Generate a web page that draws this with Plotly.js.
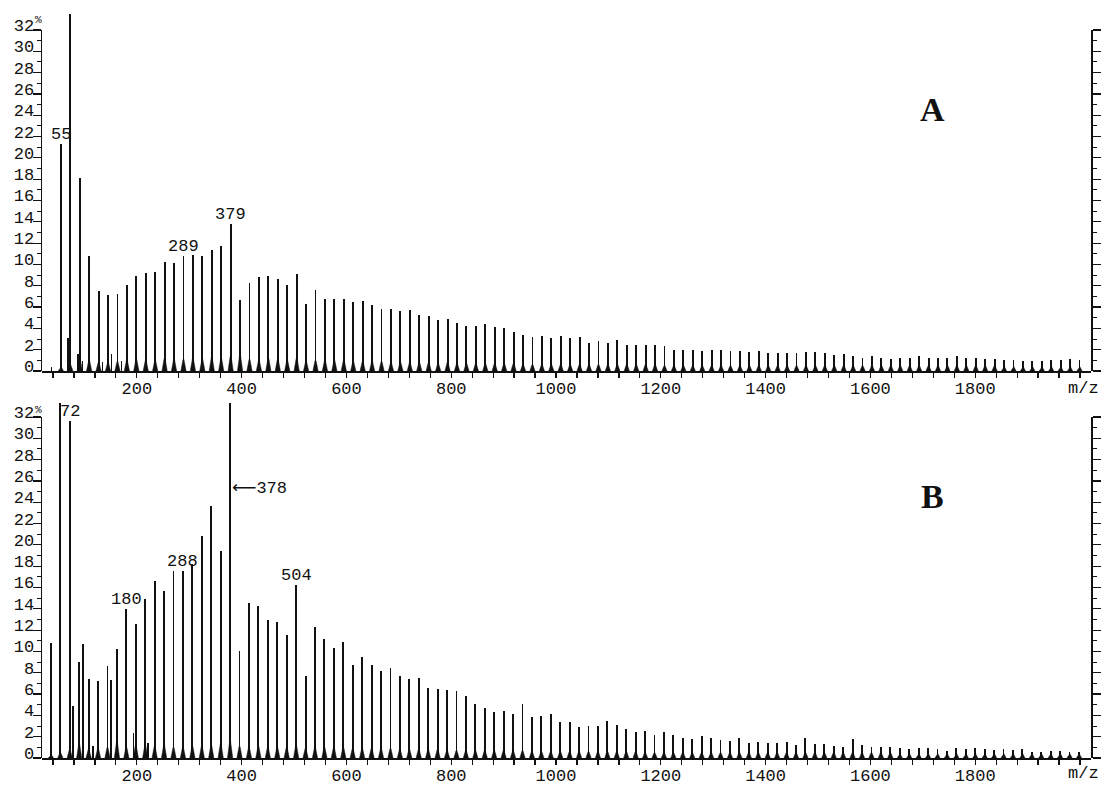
<!DOCTYPE html>
<html>
<head>
<meta charset="utf-8">
<script src="https://cdn.plot.ly/plotly-3.0.1.min.js"></script>
<style>html,body{margin:0;padding:0;background:#fff;}#chart{width:1102px;height:785px;}</style>
</head>
<body>
<div id="chart"></div>
<script>
// ---------- Panel A: main cluster series (m/z, relative intensity %) ----------
const mzA = [55,73,91,109,127,145,163,181,199,217,
  235,253,271,289,307,325,343,361,379,397,
  415,433,451,469,487,505,523,541,559,577,
  595,613,631,649,667,685,703,721,739,757,
  775,793,811,829,847,865,883,901,919,937,
  955,973,991,1009,1027,1045,1063,1081,1099,1117,
  1135,1153,1171,1189,1207,1225,1243,1261,1279,1297,
  1315,1333,1351,1369,1387,1405,1423,1441,1459,1477,
  1495,1513,1531,1549,1567,1585,1603,1621,1639,1657,
  1675,1693,1711,1729,1747,1765,1783,1801,1819,1837,
  1855,1873,1891,1909,1927,1945,1963,1981,1999];
const intA = [21.3,33.5,18.1,10.75,7.5,7.1,7.2,8.1,8.9,9.2,
  9.3,10.2,10.1,10.75,10.9,10.8,11.4,11.7,13.75,6.7,
  8.25,8.8,8.9,8.6,8.1,9.1,6.25,7.6,6.8,6.8,
  6.8,6.5,6.6,6.2,5.8,5.8,5.6,5.7,5.3,5.2,
  4.8,4.85,4.5,4.2,4.2,4.4,4.1,4.05,3.7,3.4,
  3.2,3.25,3.1,3.25,3.1,3.2,2.6,2.8,2.6,2.9,
  2.4,2.4,2.4,2.4,2.3,2.0,2.0,2.0,1.9,2.0,
  2.0,1.9,1.9,1.8,1.85,1.7,1.7,1.7,1.7,1.75,
  1.75,1.7,1.5,1.6,1.4,1.2,1.4,1.25,1.15,1.2,
  1.2,1.4,1.2,1.2,1.2,1.4,1.2,1.2,1.15,1.1,
  1.0,1.05,0.9,0.9,0.95,1.0,1.0,1.1,1.05];
const footA = [0.4,0.6,1.2,1.0,0.8,0.8,0.9,1.0,1.1,1.0,
  1.0,1.2,1.1,1.1,1.2,1.1,1.3,1.2,1.4,1.5,
  1.1,1.0,1.2,1.1,1.0,1.2,0.9,1.0,1.0,1.0,
  1.0,0.9,0.9,0.9,0.9,0.8,0.8,0.8,0.8,0.8,
  0.7,0.8,0.7,0.7,0.7,0.7,0.7,0.7,0.7,0.6,
  0.6,0.6,0.6,0.6,0.6,0.6,0.6,0.6,0.6,0.6,
  0.6,0.6,0.6,0.6,0.5,0.5,0.5,0.5,0.5,0.5,
  0.5,0.5,0.5,0.5,0.5,0.5,0.5,0.5,0.5,0.5,
  0.5,0.5,0.5,0.5,0.5,0.5,0.5,0.5,0.5,0.5,
  0.5,0.5,0.5,0.5,0.5,0.5,0.5,0.5,0.5,0.5,
  0.4,0.4,0.4,0.4,0.4,0.4,0.4,0.4,0.4];
const extraMzA = [37,69,88,96,134,152,171];
const extraIntA = [0.4,3.1,1.6,0.9,0.8,1.6,0.9];

// ---------- Panel B ----------
const mzB = [36,54,72,90,108,126,144,162,180,198,
  216,234,252,270,288,306,324,342,360,378,
  396,414,432,450,468,486,504,522,540,558,
  576,594,612,630,648,666,684,702,720,738,
  756,774,792,810,828,846,864,882,900,918,
  936,954,972,990,1008,1026,1044,1062,1080,1098,
  1116,1134,1152,1170,1188,1206,1224,1242,1260,1278,
  1296,1314,1332,1350,1368,1386,1404,1422,1440,1458,
  1476,1494,1512,1530,1548,1566,1584,1602,1620,1638,
  1656,1674,1692,1710,1728,1746,1764,1782,1800,1818,
  1836,1854,1872,1890,1908,1926,1944,1962,1980,1998];
const intB = [10.75,33.3,31.6,9.0,7.4,7.25,8.6,10.2,14.0,12.6,
  14.9,16.6,15.7,17.5,17.5,18.2,20.8,23.6,19.4,33.3,
  10.05,14.5,14.3,12.9,12.8,11.5,16.25,7.7,12.3,11.2,
  10.3,10.9,8.7,9.5,8.7,8.2,8.4,7.7,7.4,7.5,
  6.6,6.5,6.4,6.3,5.8,5.1,4.65,4.3,4.4,4.1,
  5.1,3.8,3.9,4.1,3.4,3.4,2.9,3.0,3.0,3.5,
  3.1,2.7,2.4,2.5,2.15,2.4,2.2,1.9,1.75,2.1,
  1.85,1.65,1.6,1.9,1.45,1.5,1.4,1.4,1.5,1.2,
  1.85,1.3,1.3,1.1,1.0,1.8,1.2,1.05,1.05,1.0,
  0.9,0.85,0.9,0.9,0.8,0.7,0.9,0.85,0.9,0.85,
  0.75,0.8,0.75,0.8,0.6,0.55,0.7,0.7,0.55,0.6];
const footB = [0.3,0.5,0.8,1.3,0.8,0.9,1.0,1.5,1.0,1.2,
  1.2,1.1,1.2,1.0,1.0,1.1,1.1,1.2,1.3,1.6,
  1.1,1.0,1.1,1.0,1.0,1.0,1.2,0.9,1.0,1.0,
  1.0,1.0,0.9,0.9,0.9,0.9,0.9,0.8,0.8,0.8,
  0.8,0.8,0.7,0.7,0.7,0.7,0.7,0.7,0.7,0.7,
  0.7,0.6,0.6,0.6,0.6,0.6,0.6,0.6,0.6,0.6,
  0.6,0.6,0.6,0.5,0.5,0.5,0.5,0.5,0.5,0.5,
  0.5,0.5,0.5,0.5,0.5,0.5,0.5,0.5,0.5,0.5,
  0.5,0.5,0.5,0.5,0.5,0.5,0.5,0.5,0.5,0.5,
  0.4,0.4,0.4,0.4,0.4,0.4,0.4,0.4,0.4,0.4,
  0.4,0.4,0.4,0.4,0.4,0.4,0.4,0.4,0.4,0.4];
const extraMzB = [78,97,116,151,194,221];
const extraIntB = [4.9,10.7,1.1,7.3,2.3,1.4];

// labelled peaks
const labelsA = [55,289,379];
const labelsB = [72,180,288,504];
const arrowPeakB = 378;
const xTickVals = [200,400,600,800,1000,1200,1400,1600,1800];
const xTickText = xTickVals.map(String);

// ---------- styling ----------
const MONO = 'Liberation Mono, Courier New, monospace';
const INK = '#111';
const CLEAR = 'rgba(0,0,0,0)';

function feet(mz, ft, xa, ya){
  const xs=[], ys=[];
  mz.forEach((m,i)=>{
    const f = ft[i] || 0;
    xs.push(m-5, m-0.8, m+0.8, m+5, null);
    ys.push(0, f, f, 0, null);
  });
  return {type:'scatter', mode:'lines', x:xs, y:ys, fill:'toself', fillcolor:INK,
    line:{color:INK, width:0.5}, xaxis:xa, yaxis:ya, hoverinfo:'skip'};
}
function bars(mz, v, xa, ya, w){
  return {type:'bar', x:mz, y:v, width:w, marker:{color:INK, line:{width:0}},
    xaxis:xa, yaxis:ya, hoverinfo:'skip'};
}

const data = [
  {type:'scatter', x:[], y:[], xaxis:'x', yaxis:'y3', hoverinfo:'skip'},
  {type:'scatter', x:[], y:[], xaxis:'x2', yaxis:'y4', hoverinfo:'skip'},
  feet(mzA, footA, 'x', 'y'),
  bars(extraMzA, extraIntA, 'x', 'y', 2.8),
  bars(mzA, intA, 'x', 'y', 3.6),
  feet(mzB, footB, 'x2', 'y2'),
  bars(extraMzB, extraIntB, 'x2', 'y2', 2.8),
  bars(mzB, intB, 'x2', 'y2', 3.6)
];

// plot area spans page rows 14..758 (744 px); 10.656 px per % unit
const XR = [19, 2021];
function xax(anchor){
  return {anchor:anchor, domain:[0,1], range:XR, showgrid:false, zeroline:false,
    showline:true, linecolor:INK, linewidth:2.2,
    ticks:'outside', ticklen:5, tickwidth:1.2, tickcolor:INK,
    tickmode:'array', tickvals:xTickVals, ticktext:xTickText,
    tickfont:{family:MONO, size:17, color:INK}, ticklabelstandoff:-5,
    minor:{tick0:0, dtick:40, ticks:'outside', ticklen:5, tickwidth:1.2, tickcolor:INK, showgrid:false}
  };
}
// hidden data axes (taller, so clipped peaks reach above the 32 % line)
function ydata(anchor, dom, top){
  return {anchor:anchor, domain:dom, range:[0,top], showgrid:false, zeroline:false,
    showline:false, ticks:'', showticklabels:false};
}
// visible intensity scale 0..32 %
function yscale(anchor, dom){
  return {anchor:anchor, domain:dom, range:[0,32], showgrid:false, zeroline:false,
    showline:true, linecolor:INK, linewidth:1.5, mirror:'ticks',
    ticks:'outside', ticklen:8, tickwidth:1.2, tickcolor:INK,
    tick0:0, dtick:2, tickfont:{family:MONO, size:17, color:INK},
    ticklabelshift:-5, ticklabelstandoff:-5,
    minor:{tick0:0, dtick:1, ticks:'outside', ticklen:4, tickwidth:1, tickcolor:INK, showgrid:false}
  };
}

const ann = [];
function peakLabel(mz, arr, vals, yref, txt){
  const v = vals[arr.indexOf(mz)];
  ann.push({x:mz, y:v, xref:yref==='y'?'x':'x2', yref:yref, text:txt||String(mz),
    showarrow:false, xanchor:'center', yanchor:'bottom', yshift:-2,
    font:{family:MONO, size:17, color:INK}});
}
labelsA.forEach(m=>peakLabel(m, mzA, intA, 'y'));
labelsB.forEach(m=>peakLabel(m, mzB, intB, 'y2'));
ann.push({x:arrowPeakB, y:25.4, xref:'x2', yref:'y2',
  text:'<span style="font-family:DejaVu Sans">\u27F5</span>' + arrowPeakB,
  showarrow:false, xanchor:'left', yanchor:'middle', xshift:0,
  font:{family:MONO, size:17, color:INK}});
// panel letters
ann.push({x:1719, y:24.5, xref:'x', yref:'y', text:'<b>A</b>', showarrow:false,
  font:{family:'Liberation Serif, Times New Roman, serif', size:34, color:INK}});
ann.push({x:1719, y:24.5, xref:'x2', yref:'y2', text:'<b>B</b>', showarrow:false,
  font:{family:'Liberation Serif, Times New Roman, serif', size:34, color:INK}});
// percent signs and m/z unit labels (paper coords)
[[0.9913, 0.49597],[0.4677, -0.021]].forEach(([pct, unit])=>{
  ann.push({x:-0.003, y:pct, xref:'paper', yref:'paper', text:'%', showarrow:false,
    xanchor:'center', yanchor:'middle', font:{family:MONO, size:11, color:INK}});
  ann.push({x:0.9924, y:unit, xref:'paper', yref:'paper', text:'m/z', showarrow:false,
    xanchor:'center', yanchor:'middle', font:{family:MONO, size:17, color:INK}});
});

const layout = {
  width:1102, height:785,
  margin:{l:42, r:11, t:14, b:27},
  paper_bgcolor:'#fff', plot_bgcolor:CLEAR,
  showlegend:false, bargap:0, barmode:'overlay',
  xaxis:xax('y'), yaxis:ydata('x',[0.52016,1],33.5),
  xaxis2:xax('y2'), yaxis2:ydata('x2',[0,0.47715],33.3),
  yaxis3:yscale('x',[0.52016,0.97849]),
  yaxis4:yscale('x2',[0,0.45833]),
  annotations:ann
};

Plotly.newPlot('chart', data, layout, {staticPlot:true, displayModeBar:false});
</script>
</body>
</html>
